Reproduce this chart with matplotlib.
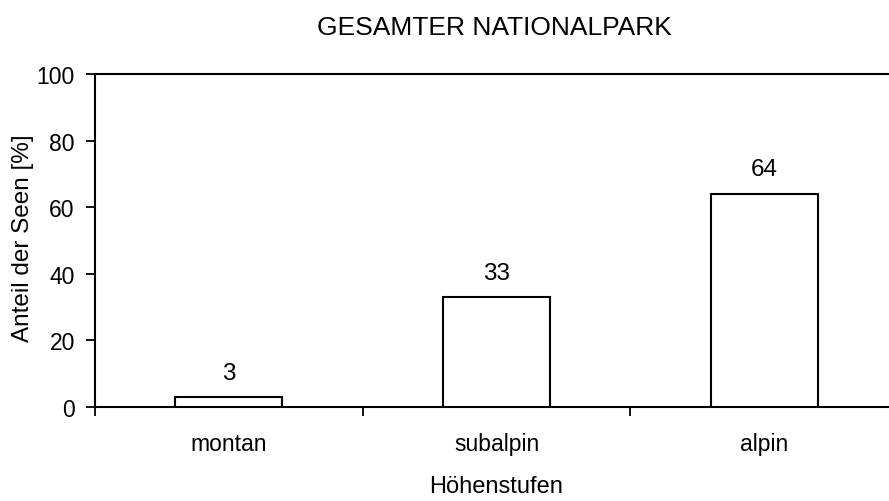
import matplotlib
matplotlib.use('Agg')
import matplotlib.pyplot as plt
import numpy as np

plt.rcParams['font.family'] = ['Liberation Sans', 'DejaVu Sans']

# data
categories = ['montan', 'subalpin', 'alpin']
anteil = [3, 33, 64]
y_ticks = [0, 20, 40, 60, 80, 100]

W, H = 889, 502
fig = plt.figure(figsize=(W / 100, H / 100), dpi=100)
# plot area in pixels: x 95..898 (runs past the right edge), y 75..408
ax = fig.add_axes([95 / W, 1 - 408 / H, (898 - 95) / W, (408 - 75) / H])

x = np.arange(len(categories))
ax.bar(x, anteil, width=0.4, color='white', edgecolor='black', linewidth=1.5, zorder=3)

for xi, v in zip(x, anteil):
    ax.annotate(str(v), (xi, v), xytext=(0, 13.3), textcoords='offset points',
                ha='center', va='baseline', fontsize=17.5)

ax.set_xlim(-0.5, 2.5)
ax.set_ylim(0, 100)

# boundary ticks between categories, labels on minor ticks
ax.set_xticks(np.arange(len(categories) + 1) - 0.5)
ax.set_xticklabels([])
ax.set_xticks(x, categories, minor=True)
ax.tick_params(axis='x', which='major', direction='out', length=6.5, width=1.3)
ax.tick_params(axis='x', which='minor', length=0, pad=18, labelsize=16.5)

ax.set_yticks(y_ticks)
ax.tick_params(axis='y', direction='out', length=6.5, width=1.3, pad=8, labelsize=16.5)

for s in ['left', 'bottom', 'top']:
    ax.spines[s].set_linewidth(1.5)
ax.spines['right'].set_visible(False)

fig.text(494 / W, 1 - 28 / H, 'GESAMTER NATIONALPARK', ha='center', va='center', fontsize=19)
fig.text(23 / W, 1 - 238 / H, 'Anteil der Seen [%]', rotation=90, ha='center', va='center', fontsize=17.5)
fig.text(496 / W, 1 - 487 / H, 'Höhenstufen', ha='center', va='center', fontsize=17)

fig.savefig('out.png', dpi=100)
